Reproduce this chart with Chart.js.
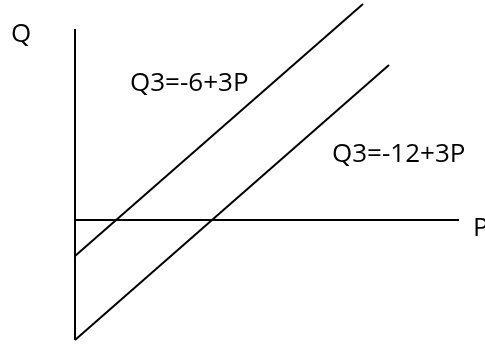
<!DOCTYPE html>
<html>
<head>
<meta charset="utf-8">
<script src="https://cdn.jsdelivr.net/npm/chart.js@4"></script>
<style>
  html, body { margin: 0; padding: 0; background: #fff; }
  #wrap { width: 485px; height: 347px; position: relative; }
</style>
</head>
<body>
<div id="wrap"><canvas id="supplyChart"></canvas></div>
<script>
"use strict";

// sketch units: P along x, Q along y (origin where the axes cross)
const axisP = [0, 19.2];          // horizontal axis, drawn at Q = 0
const axisQ = [-6.0, 9.55];       // vertical axis, drawn at P = 0

const supply1P = [0, 14.4];
const supply1Q = [-1.8, 10.8];
const supply2P = [0, 15.7];
const supply2Q = [-6.0, 7.75];

const curveLabels = ["Q3=-6+3P", "Q3=-12+3P"];
const axisLabels = ["Q", "P"];

const toPoints = (xs, ys) => xs.map((x, i) => ({ x: x, y: ys[i] }));

const lineStyle = {
    borderColor: "#000",
    borderWidth: 2,
    pointRadius: 0,
    fill: false,
    tension: 0
};

// text anchors in data units (left edge, baseline)
const labelSpots = [
    { text: curveLabels[0], p: 2.75, q: 6.45 },
    { text: curveLabels[1], p: 12.85, q: 2.9 },
    { text: axisLabels[0], p: -3.2, q: 8.9 },
    { text: axisLabels[1], p: 19.9, q: -0.8 }
];

const textPlugin = {
    id: "sketchText",
    afterDatasetsDraw: (chart) => {
        const ctx = chart.ctx;
        const xs = chart.scales.x;
        const ys = chart.scales.y;
        ctx.save();
        ctx.fillStyle = "#000";
        ctx.font = "26px 'Open Sans', 'Liberation Sans', sans-serif";
        ctx.textAlign = "left";
        ctx.textBaseline = "alphabetic";
        for (const l of labelSpots) {
            ctx.fillText(l.text, xs.getPixelForValue(l.p), ys.getPixelForValue(l.q));
        }
        ctx.restore();
    }
};

var ctx = document.getElementById("supplyChart").getContext("2d");

new Chart(ctx, {
    type: "line",
    data: {
        datasets: [
            { data: toPoints(axisP, [0, 0]), ...lineStyle },
            { data: toPoints([0, 0], axisQ), ...lineStyle },
            { data: toPoints(supply1P, supply1Q), ...lineStyle },
            { data: toPoints(supply2P, supply2Q), ...lineStyle }
        ]
    },
    options: {
        responsive: true,
        maintainAspectRatio: false,
        animation: false,
        layout: { padding: 0 },
        plugins: {
            legend: { display: false },
            tooltip: { enabled: false },
            title: { display: false }
        },
        scales: {
            x: { type: "linear", min: -3.75, max: 20.5, display: false },
            y: { type: "linear", min: -6.35, max: 11, display: false }
        }
    },
    plugins: [textPlugin]
});
</script>
</body>
</html>
